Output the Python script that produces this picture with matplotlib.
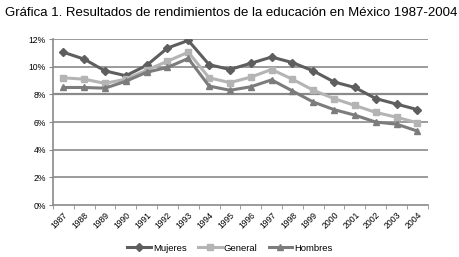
import matplotlib
matplotlib.use("Agg")
import matplotlib.pyplot as plt
from matplotlib.ticker import FixedLocator
import numpy as np

years = [str(y) for y in range(1987, 2005)]
mujeres = [11.05, 10.55, 9.7, 9.35, 10.1, 11.35, 11.9, 10.15, 9.8, 10.25,
           10.7, 10.3, 9.7, 8.9, 8.5, 7.7, 7.3, 6.9]
general = [9.2, 9.1, 8.8, 9.1, 9.75, 10.4, 11.05, 9.2, 8.85, 9.25,
           9.8, 9.1, 8.3, 7.7, 7.2, 6.7, 6.35, 5.95]
hombres = [8.5, 8.5, 8.45, 8.95, 9.6, 9.95, 10.6, 8.6, 8.3, 8.55,
           9.05, 8.25, 7.45, 6.9, 6.5, 6.0, 5.85, 5.35]

plt.rcParams['font.family'] = ['Liberation Sans', 'DejaVu Sans']

fig = plt.figure(figsize=(4.6, 2.57), dpi=100)
ax = fig.add_axes([0.115, 0.202, 0.815, 0.646])

x = np.arange(len(years))
ax.plot(x, mujeres, color='#5e5e5e', lw=2.2, marker='D', ms=4, label='Mujeres')
ax.plot(x, general, color='#b4b4b4', lw=2.2, marker='s', ms=5, label='General')
ax.plot(x, hombres, color='#7c7c7c', lw=2.2, marker='^', ms=5, label='Hombres')

ax.set_xlim(-0.5, len(years) - 0.5)
ax.set_ylim(0, 12)
ax.set_yticks(range(0, 13, 2))
ax.set_yticklabels([f"{v}%" for v in range(0, 13, 2)], fontsize=6.2)
for v in range(2, 13, 2):
    ax.axhline(v, color='#8a8a8a', lw=1.6 if v == 8 else 1.2, zorder=0)

ax.set_xticks(x)
ax.set_xticklabels(years, rotation=45, fontsize=6.2, ha='right', rotation_mode='anchor')
ax.xaxis.set_minor_locator(FixedLocator(np.arange(-0.5, len(years), 1)))
ax.tick_params(axis='x', which='major', length=0, pad=4)
ax.tick_params(axis='x', which='minor', length=3, color='#8a8a8a')
ax.tick_params(axis='y', length=3, color='#8a8a8a', pad=2)

for s in ['top', 'right']:
    ax.spines[s].set_visible(False)
for s in ['left', 'bottom']:
    ax.spines[s].set_color('#8a8a8a')
    ax.spines[s].set_linewidth(1.2)

fig.text(0.01, 0.95, "Gráfica 1. Resultados de rendimientos de la educación en México 1987-2004",
         fontsize=9.5, va='center', ha='left')

fig.legend(loc='center', bbox_to_anchor=(0.5, 0.035), ncol=3, frameon=False,
           fontsize=6.8, handlelength=2.5, columnspacing=1.2, handletextpad=0.2,
           markerscale=0.9)

fig.savefig("out.png", dpi=100)
